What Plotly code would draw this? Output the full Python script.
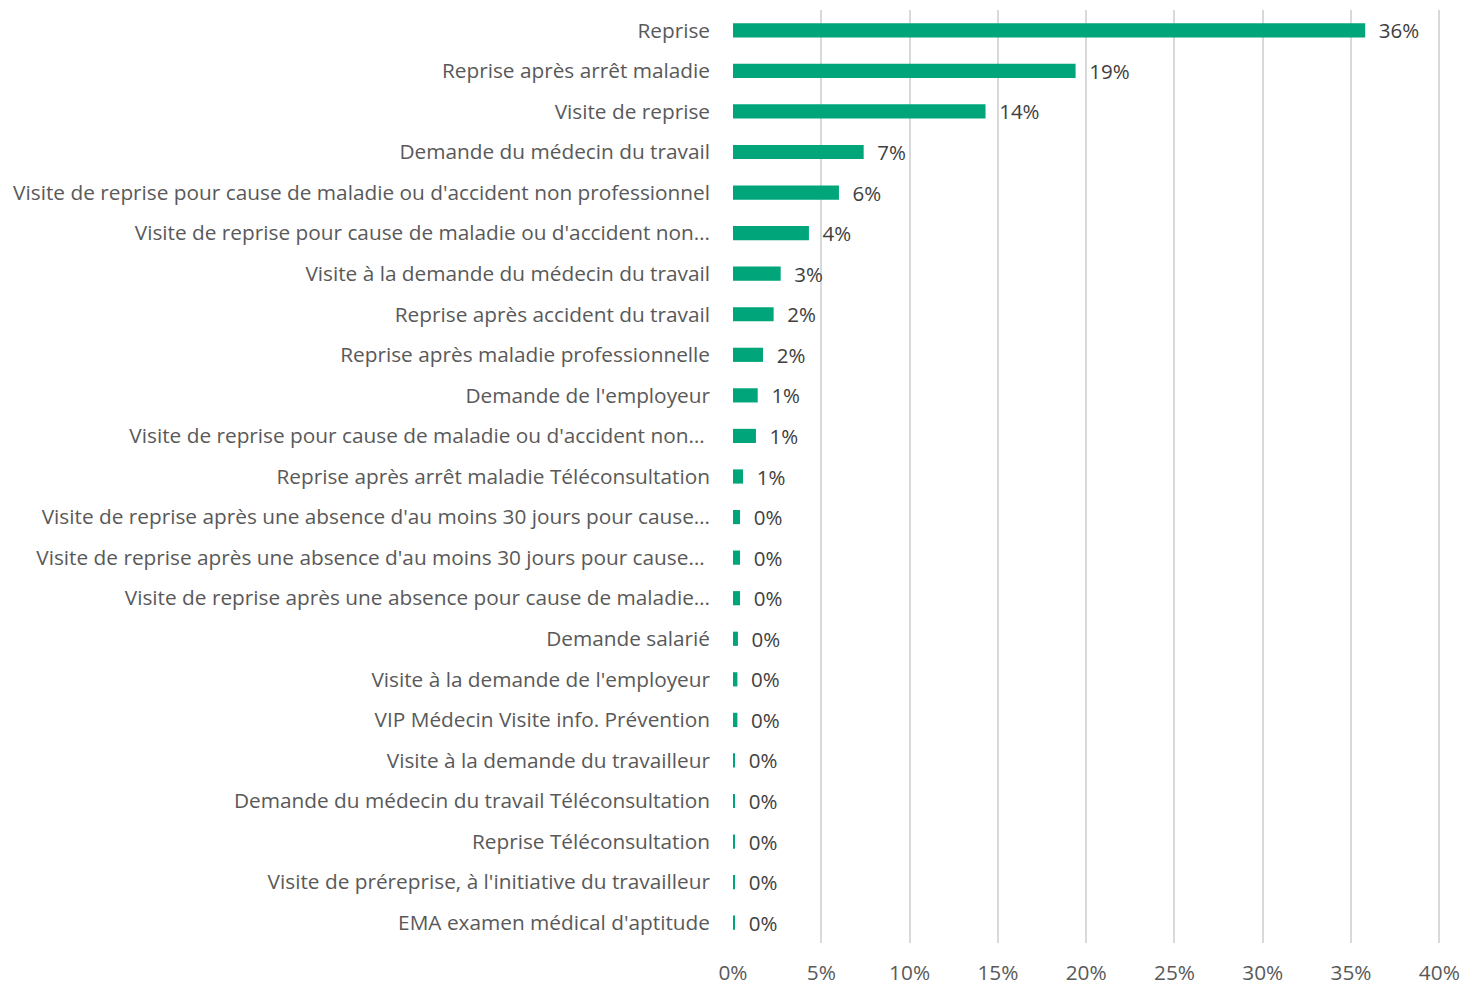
import plotly.graph_objects as go

categories = [
    "Reprise",
    "Reprise après arrêt maladie",
    "Visite de reprise",
    "Demande du médecin du travail",
    "Visite de reprise pour cause de maladie ou d'accident non professionnel",
    "Visite de reprise pour cause de maladie ou d'accident non…",
    "Visite à la demande du médecin du travail",
    "Reprise après accident du travail",
    "Reprise après maladie professionnelle",
    "Demande de l'employeur",
    "Visite de reprise pour cause de maladie ou d'accident non… ",
    "Reprise après arrêt maladie Téléconsultation",
    "Visite de reprise après une absence d'au moins 30 jours pour cause…",
    "Visite de reprise après une absence d'au moins 30 jours pour cause… ",
    "Visite de reprise après une absence pour cause de maladie…",
    "Demande salarié",
    "Visite à la demande de l'employeur",
    "VIP Médecin Visite info. Prévention",
    "Visite à la demande du travailleur",
    "Demande du médecin du travail Téléconsultation",
    "Reprise Téléconsultation",
    "Visite de préreprise, à l'initiative du travailleur",
    "EMA examen médical d'aptitude",
]

shares = [
    0.358, 0.194, 0.143, 0.074, 0.060, 0.043, 0.027, 0.023, 0.017, 0.014,
    0.013, 0.0057, 0.004, 0.004, 0.004, 0.0028, 0.0025, 0.0025,
    0.001, 0.001, 0.001, 0.001, 0.001,
]

x_ticks = [0, 0.05, 0.10, 0.15, 0.20, 0.25, 0.30, 0.35, 0.40]

fig = go.Figure()

fig.add_trace(
    go.Bar(
        x=shares,
        y=categories,
        orientation="h",
        marker=dict(color="#00A67A", line=dict(width=0)),
        texttemplate="\u00a0\u00a0%{x:.0%}",
        textposition="outside",
        constraintext="none",
        textfont=dict(color="#404040", size=20.5),
        cliponaxis=False,
        hoverinfo="x+y",
    )
)

fig.update_layout(
    width=1461,
    height=985,
    margin=dict(l=733, r=19, t=10, b=42),
    plot_bgcolor="white",
    paper_bgcolor="white",
    font=dict(family="Open Sans, Calibri, sans-serif", color="#595959", size=20.8),
    bargap=0.65,
    showlegend=False,
)

# small headroom past 40% so the last gridline is still drawn
fig.update_xaxes(
    range=[0, 0.4015],
    tickvals=x_ticks,
    tickformat=".0%",
    showgrid=True,
    gridcolor="#D9D9D9",
    gridwidth=2,
    zeroline=False,
    showline=False,
    ticks="",
    ticklabelstandoff=15,
    automargin=False,
)

fig.update_yaxes(
    autorange="reversed",
    showgrid=False,
    showline=False,
    ticks="",
    ticklabelstandoff=22,
    automargin=False,
)

# drop the default body margin so the figure fills the window exactly
fig.write_html(
    "out.html",
    config={"displayModeBar": False},
    post_script="document.body.style.margin='0';",
)
